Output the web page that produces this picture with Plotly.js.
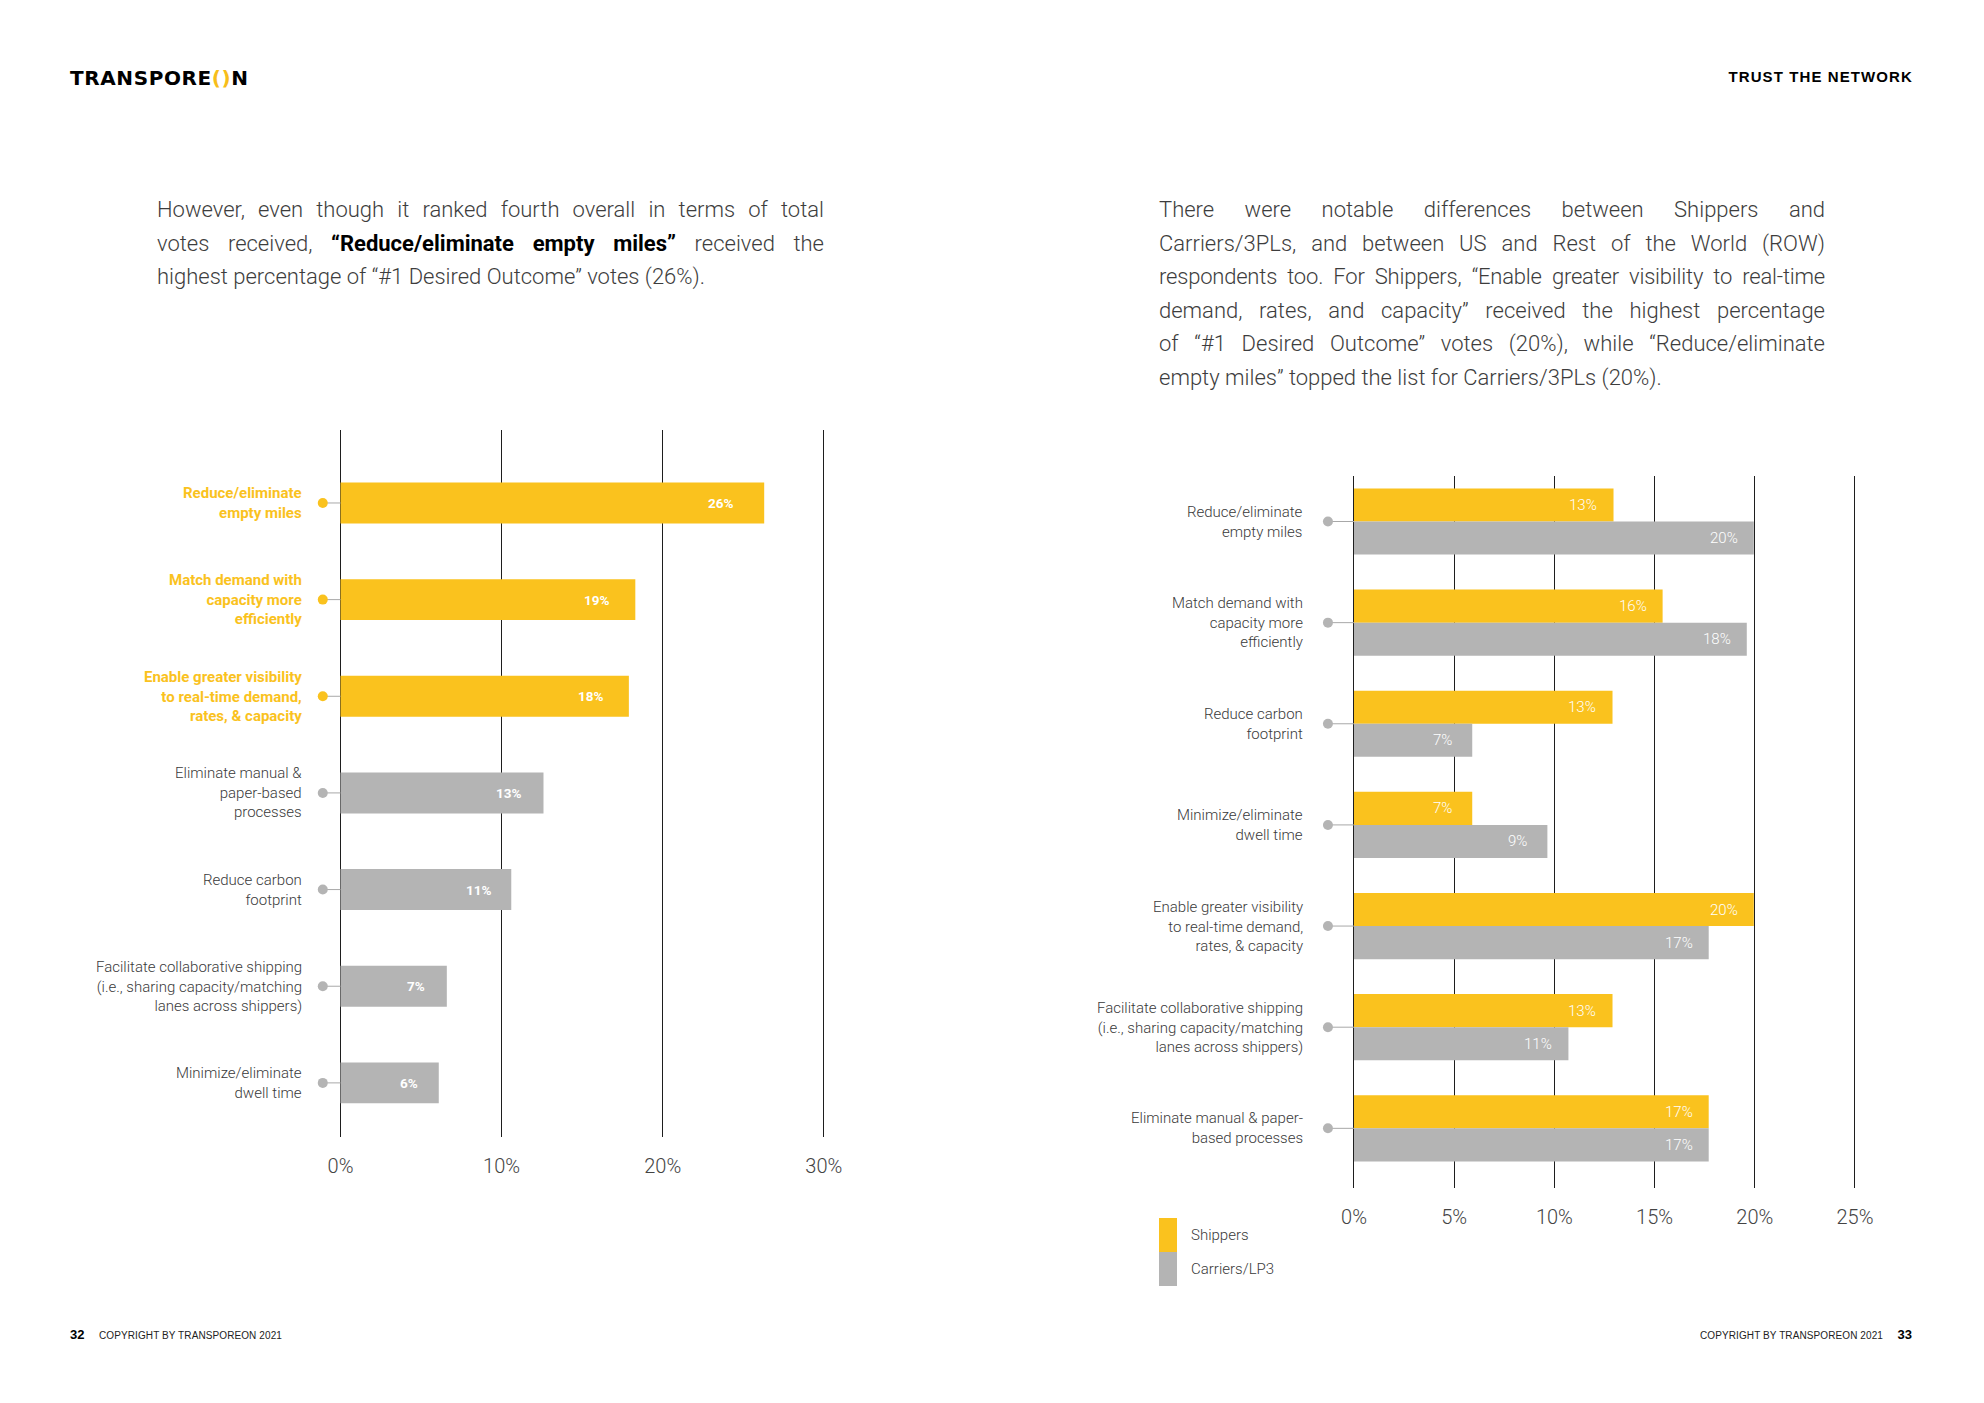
<!DOCTYPE html>
<html>
<head>
<meta charset="utf-8">
<script src="https://cdn.plot.ly/plotly-3.0.1.min.js"></script>
<style>
  html, body { margin: 0; padding: 0; background: #fff; }
  #page { position: relative; width: 1984px; height: 1403px; overflow: hidden; background: #fff; }
  #chart { position: absolute; left: 0; top: 0; width: 1984px; height: 1403px; }
  .txt { position: absolute; pointer-events: none; font-family: Roboto, "Liberation Sans", sans-serif; }
  .para { font-size: 22px; line-height: 33.5px; color: #3d3d3d; font-weight: 300; width: 667px; }
  .para div { white-space: nowrap; text-align: justify; text-align-last: justify; }
  .para div.last { text-align: left; text-align-last: left; }
  .para b { color: #000; font-weight: 700; }
  .logo { font-family: "DejaVu Sans", sans-serif; font-weight: 700; font-size: 20px; letter-spacing: 0.6px; color: #000; }
  .logo span { color: #F7BE1A; }
  .hdr { font-family: "Liberation Sans", Arial, sans-serif; font-weight: 700; font-size: 15px; letter-spacing: 1.1px; color: #000; }
  .foot { font-family: "Liberation Sans", Arial, sans-serif; font-size: 10px; color: #222; letter-spacing: 0.1px; }
  .pg { font-family: "Liberation Sans", Arial, sans-serif; font-size: 13px; font-weight: 700; color: #000; }
</style>
</head>
<body>
<div id="page">
  <div id="chart"></div>
  <div class="txt logo" style="left:70px; top:66px;">TRANSPORE<span>()</span>N</div>
  <div class="txt hdr" style="right:71px; top:68px;">TRUST THE NETWORK</div>
  <div class="txt para" style="left:157px; top:193px;">
    <div>However, even though it ranked fourth overall in terms of total</div>
    <div>votes received, <b>“Reduce/eliminate empty miles”</b> received the</div>
    <div class="last">highest percentage of “#1 Desired Outcome” votes (26%).</div>
  </div>
  <div class="txt para" style="left:1159px; top:193px; width:666px;">
    <div>There were notable differences between Shippers and</div>
    <div>Carriers/3PLs, and between US and Rest of the World (ROW)</div>
    <div style="word-spacing:-4px; letter-spacing:-0.2px;">respondents too. For Shippers, “Enable greater visibility to real-time</div>
    <div>demand, rates, and capacity” received the highest percentage</div>
    <div>of “#1 Desired Outcome” votes (20%), while “Reduce/eliminate</div>
    <div class="last">empty miles” topped the list for Carriers/3PLs (20%).</div>
  </div>
  <div class="txt pg" style="left:70px; top:1327px;">32</div>
  <div class="txt foot" style="left:99px; top:1330px;">COPYRIGHT BY TRANSPOREON 2021</div>
  <div class="txt foot" style="right:101px; top:1330px;">COPYRIGHT BY TRANSPOREON 2021</div>
  <div class="txt pg" style="right:72px; top:1327px;">33</div>
</div>
<script>
// ---------------- DATA ----------------
const leftCategories = [
  "Reduce/eliminate<br>empty miles",
  "Match demand with<br>capacity more<br>efficiently",
  "Enable greater visibility<br>to real-time demand,<br>rates, & capacity",
  "Eliminate manual &<br>paper-based<br>processes",
  "Reduce carbon<br>footprint",
  "Facilitate collaborative shipping<br>(i.e., sharing capacity/matching<br>lanes across shippers)",
  "Minimize/eliminate<br>dwell time"
];
const leftValues = [26.3, 18.3, 17.9, 12.6, 10.6, 6.6, 6.1];
const leftValueLabels = ["26%", "19%", "18%", "13%", "11%", "7%", "6%"];
const leftTickVals = [0, 10, 20, 30];
const leftTickText = ["0%", "10%", "20%", "30%"];

const rightCategories = [
  "Reduce/eliminate<br>empty miles",
  "Match demand with<br>capacity more<br>efficiently",
  "Reduce carbon<br>footprint",
  "Minimize/eliminate<br>dwell time",
  "Enable greater visibility<br>to real-time demand,<br>rates, & capacity",
  "Facilitate collaborative shipping<br>(i.e., sharing capacity/matching<br>lanes across shippers)",
  "Eliminate manual & paper-<br>based processes"
];
const seriesNames = ["Shippers", "Carriers/LP3"];
const shippersValues = [12.95, 15.4, 12.9, 5.9, 19.95, 12.9, 17.7];
const carriersValues = [19.95, 19.6, 5.9, 9.65, 17.7, 10.7, 17.7];
const shippersLabels = ["13%", "16%", "13%", "7%", "20%", "13%", "17%"];
const carriersLabels = ["20%", "18%", "7%", "9%", "17%", "11%", "17%"];
const rightTickVals = [0, 5, 10, 15, 20, 25];
const rightTickText = ["0%", "5%", "10%", "15%", "20%", "25%"];

// ---------------- STYLE / LAYOUT ----------------
const YELLOW = "#FAC21E";
const GRAY = "#B4B4B4";
const TEXT = "#3a3a3a";
const FONT = "Roboto, 'Liberation Sans', sans-serif";
const HIGHLIGHT_TOP = 3;
const W = 1984, H = 1403;
const px = x => x / W;
const py = y => 1 - y / H;

const leftColors = leftValues.map((v, i) => i < HIGHLIGHT_TOP ? YELLOW : GRAY);
const leftIdx = leftCategories.map((c, i) => i);
const rightIdx = rightCategories.map((c, i) => i);

const traces = [];
traces.push({
  type: "bar", orientation: "h", xaxis: "x", yaxis: "y",
  y: leftIdx, x: leftValues, width: 0.424,
  marker: { color: leftColors, line: { width: 0 } },
  hoverinfo: "skip", showlegend: false
});
const lcx = [], lcy = [];
leftIdx.forEach(i => { lcx.push(-1.1, 0, null); lcy.push(i, i, null); });
traces.push({
  type: "scatter", mode: "lines", xaxis: "x", yaxis: "y",
  x: lcx, y: lcy, line: { color: "#a8a8a8", width: 1 }, hoverinfo: "skip", showlegend: false
});
traces.push({
  type: "scatter", mode: "markers", xaxis: "x", yaxis: "y",
  x: leftIdx.map(() => -1.1), y: leftIdx,
  marker: { size: 10, color: leftColors }, cliponaxis: false, hoverinfo: "skip", showlegend: false
});
const BW = 0.327;
traces.push({
  type: "bar", orientation: "h", xaxis: "x2", yaxis: "y2", name: seriesNames[0],
  y: rightIdx, x: shippersValues, width: BW, offset: -BW,
  marker: { color: YELLOW, line: { width: 0 } }, hoverinfo: "skip", showlegend: false
});
traces.push({
  type: "bar", orientation: "h", xaxis: "x2", yaxis: "y2", name: seriesNames[1],
  y: rightIdx, x: carriersValues, width: BW, offset: 0,
  marker: { color: GRAY, line: { width: 0 } }, hoverinfo: "skip", showlegend: false
});
const rcx = [], rcy = [];
rightIdx.forEach(i => { rcx.push(-1.3, 0, null); rcy.push(i, i, null); });
traces.push({
  type: "scatter", mode: "lines", xaxis: "x2", yaxis: "y2",
  x: rcx, y: rcy, line: { color: "#a8a8a8", width: 1 }, hoverinfo: "skip", showlegend: false
});
traces.push({
  type: "scatter", mode: "markers", xaxis: "x2", yaxis: "y2",
  x: rightIdx.map(() => -1.3), y: rightIdx,
  marker: { size: 10, color: GRAY }, cliponaxis: false, hoverinfo: "skip", showlegend: false
});

const annotations = [];
leftCategories.forEach((c, i) => {
  const hl = i < HIGHLIGHT_TOP;
  annotations.push({
    xref: "paper", yref: "y", x: px(304), y: i, xanchor: "right", yanchor: "middle",
    align: "right", showarrow: false,
    text: hl ? "<b>" + c + "</b>" : c,
    font: { family: FONT, size: 15, color: hl ? YELLOW : TEXT, weight: hl ? 700 : 300 }
  });
});
leftValues.forEach((v, i) => {
  annotations.push({
    xref: "x", yref: "y", x: 0.957 * v - 1.6, y: i, xanchor: "center", yanchor: "middle",
    showarrow: false, text: "<b>" + leftValueLabels[i] + "</b>",
    font: { family: FONT, size: 13.5, color: "#ffffff" }
  });
});
rightCategories.forEach((c, i) => {
  annotations.push({
    xref: "paper", yref: "y2", x: px(1305), y: i, xanchor: "right", yanchor: "middle",
    align: "right", showarrow: false, text: c,
    font: { family: FONT, size: 15, color: TEXT, weight: 300 }
  });
});
shippersValues.forEach((v, i) => {
  annotations.push({
    xref: "x2", yref: "y2", x: v - 1.5, y: i - BW / 2, xanchor: "center", yanchor: "middle",
    showarrow: false, text: shippersLabels[i],
    font: { family: FONT, size: 15, color: "#ffffff", weight: 300 }
  });
});
carriersValues.forEach((v, i) => {
  annotations.push({
    xref: "x2", yref: "y2", x: v - 1.5, y: i + BW / 2, xanchor: "center", yanchor: "middle",
    showarrow: false, text: carriersLabels[i],
    font: { family: FONT, size: 15, color: "#ffffff", weight: 300 }
  });
});
const legendColors = [YELLOW, GRAY];
const shapes = [];
seriesNames.forEach((n, k) => {
  const top = 1218 + k * 34;
  shapes.push({
    type: "rect", xref: "paper", yref: "paper",
    x0: px(1159), x1: px(1177), y0: py(top + 34), y1: py(top),
    fillcolor: legendColors[k], line: { width: 0 }
  });
  annotations.push({
    xref: "paper", yref: "paper", x: px(1189), y: py(top + 17), xanchor: "left", yanchor: "middle",
    showarrow: false, text: n, font: { family: FONT, size: 15, color: TEXT, weight: 300 }
  });
});

// Left axis geometry: 0% at 340.5px, 16.11 px per %
const LPP = 16.11, L0 = 340.5, LMIN = -1.3, LMAX = 30.3;
// Right axis geometry: 0% at 1354px, 20.04 px per %
const RPP = 20.04, R0 = 1354, RMIN = -1.6, RMAX = 25.3;

const xCommon = {
  showgrid: true, gridcolor: "#1e1e1e", gridwidth: 1, zeroline: false, showline: false,
  ticks: "outside", ticklen: 11, tickcolor: "rgba(0,0,0,0)", tickmode: "array",
  tickfont: { family: FONT, size: 20, color: "#444", weight: 300 }, fixedrange: true
};
const yCommon = {
  showgrid: false, zeroline: false, showline: false, showticklabels: false,
  ticks: "", type: "linear", fixedrange: true
};

const layout = {
  width: W, height: H,
  margin: { l: 0, r: 0, t: 0, b: 0, pad: 0 },
  paper_bgcolor: "rgba(0,0,0,0)", plot_bgcolor: "rgba(0,0,0,0)",
  showlegend: false, barmode: "overlay",
  xaxis: Object.assign({}, xCommon, {
    domain: [px(L0 + LMIN * LPP), px(L0 + LMAX * LPP)], range: [LMIN, LMAX],
    tickvals: leftTickVals, ticktext: leftTickText, anchor: "y"
  }),
  yaxis: Object.assign({}, yCommon, {
    domain: [py(1137), py(430)], range: [6.56, -0.755], anchor: "x"
  }),
  xaxis2: Object.assign({}, xCommon, {
    domain: [px(R0 + RMIN * RPP), px(R0 + RMAX * RPP)], range: [RMIN, RMAX],
    tickvals: rightTickVals, ticktext: rightTickText, anchor: "y2"
  }),
  yaxis2: Object.assign({}, yCommon, {
    domain: [py(1188), py(476)], range: [6.59, -0.45], anchor: "x2"
  }),
  annotations: annotations,
  shapes: shapes
};

Plotly.newPlot("chart", traces, layout, { displayModeBar: false, staticPlot: true });
</script>
</body>
</html>
